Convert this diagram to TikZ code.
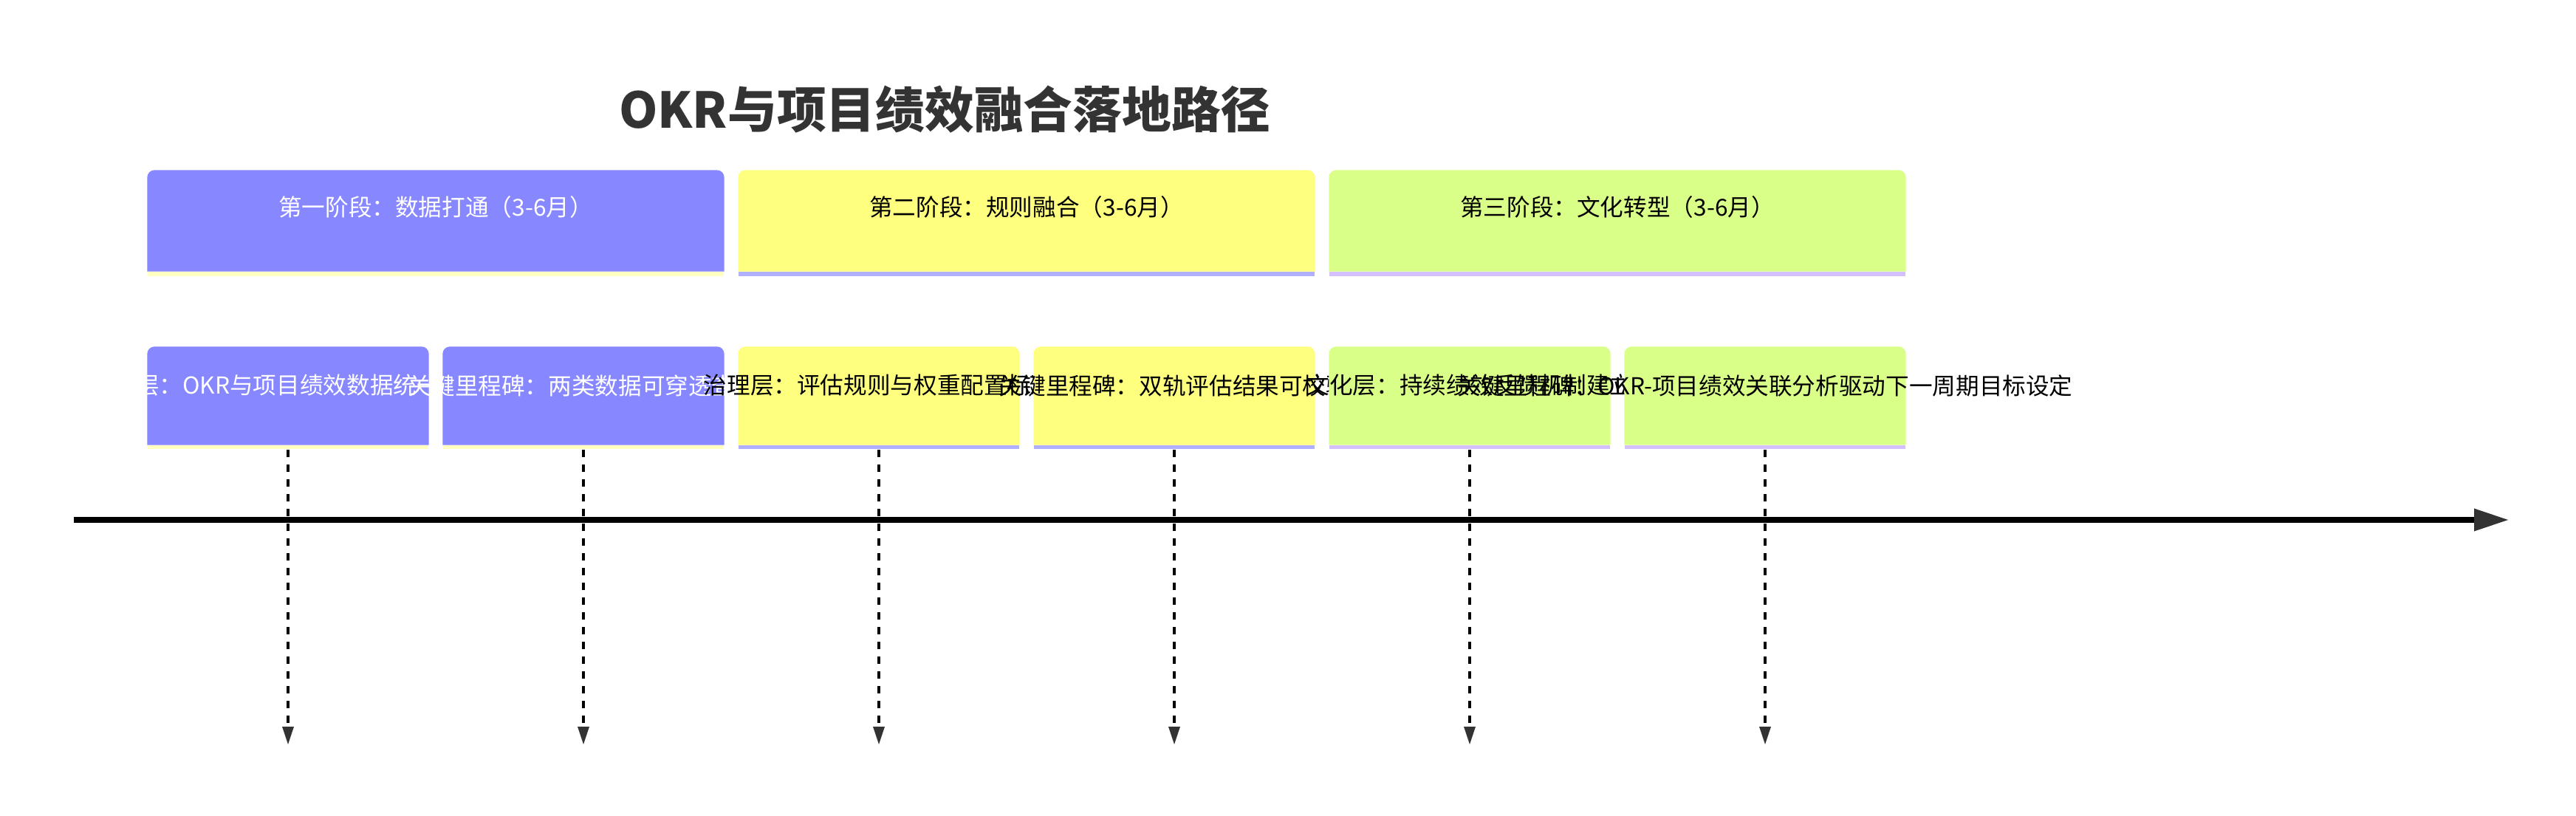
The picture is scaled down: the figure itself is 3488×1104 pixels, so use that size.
\documentclass[tikz,border=0pt]{standalone}
\usepackage{fontspec}
\newfontfamily\cjk{Noto Sans CJK SC}
\usetikzlibrary{arrows.meta}
\definecolor{dataFill}{HTML}{8787FF}
\definecolor{dataLine}{HTML}{FFFFC0}
\definecolor{ruleFill}{HTML}{FFFF7F}
\definecolor{ruleLine}{HTML}{B0B0FF}
\definecolor{cultFill}{HTML}{D9FF88}
\definecolor{cultLine}{HTML}{D4C0FF}
\definecolor{tipGray}{HTML}{333333}
\tikzset{
	stagebox/.style={rectangle,inner sep=0pt,minimum width=78mm,minimum height=13.6mm},
	stagestrip/.style={rectangle,inner sep=0pt,minimum width=78mm,minimum height=0.6mm},
	stepcard/.style={rectangle,inner sep=0pt,minimum width=38mm,minimum height=13.2mm},
	stepstrip/.style={rectangle,inner sep=0pt,minimum width=38mm,minimum height=0.5mm},
	tag/.style={inner sep=0pt,font=\cjk\fontsize{9}{11}\selectfont},
	axis/.style={line width=0.8mm,-{Triangle[length=4.6mm,width=3.1mm,line width=0pt,color=tipGray]}},
	drop/.style={line width=0.35mm,dash pattern=on 1mm off 1mm,-{Triangle[length=2.4mm,width=1.6mm,line width=0pt,color=tipGray]}}
}
\begin{document}
\begin{tikzpicture}[x=0.1mm,y=0.1mm,line join=round]
	\useasboundingbox (0,0) rectangle (3488,1104);
	\node[font=\cjk\bfseries\fontsize{19}{23}\selectfont,text=tipGray] (title) at (1279,956) {OKR与项目绩效融合落地路径};
	% stages
	\foreach \i/\x/\c/\s/\t/\lab in {1/590/dataFill/dataLine/white/第一阶段：数据打通（3-6月）,
		2/1390/ruleFill/ruleLine/black/第二阶段：规则融合（3-6月）,
		3/2190/cultFill/cultLine/black/第三阶段：文化转型（3-6月）}
	{
		\node[stagebox] (s\i) at (\x,805) {};
		\fill[\c] (s\i.south west) -- ([yshift=-1mm]s\i.north west) arc[start angle=180,end angle=90,radius=1mm]
		-- ([xshift=-1mm]s\i.north east) arc[start angle=90,end angle=0,radius=1mm] -- (s\i.south east) -- cycle;
		\node[stagestrip,fill=\s,anchor=north] (s\i b) at (s\i.south) {};
		\node[tag,text=\t] (s\i t) at ([yshift=1.9mm]s\i.center) {\lab};
	}
	% milestones
	\foreach \i/\x/\c/\s/\t/\lab in {1/390/dataFill/dataLine/white/数据层：OKR与项目绩效数据统一口径,
		2/790/dataFill/dataLine/white/关键里程碑：两类数据可穿透查询,
		3/1190/ruleFill/ruleLine/black/治理层：评估规则与权重配置标准,
		4/1590/ruleFill/ruleLine/black/关键里程碑：双轨评估结果可校验,
		5/1990/cultFill/cultLine/black/文化层：持续绩效反馈机制建立,
		6/2390/cultFill/cultLine/black/关键里程碑：OKR-项目绩效关联分析驱动下一周期目标设定}
	{
		\node[stepcard] (m\i) at (\x,568) {};
		\fill[\c] (m\i.south west) -- ([yshift=-1mm]m\i.north west) arc[start angle=180,end angle=90,radius=1mm]
		-- ([xshift=-1mm]m\i.north east) arc[start angle=90,end angle=0,radius=1mm] -- (m\i.south east) -- cycle;
		\node[stepstrip,fill=\s,anchor=north] (m\i b) at (m\i.south) {};
		\node[tag,text=\t] (m\i t) at ([yshift=1.4mm]m\i.center) {\lab};
		\coordinate (d\i) at (\x,96);
		\draw[drop] (m\i b.south) -- (d\i);
	}
	% time axis
	\path (100,400) coordinate (axl)
	(3396,400) coordinate (axr);
	\draw[axis] (axl)--(axr);
\end{tikzpicture}
\end{document}
